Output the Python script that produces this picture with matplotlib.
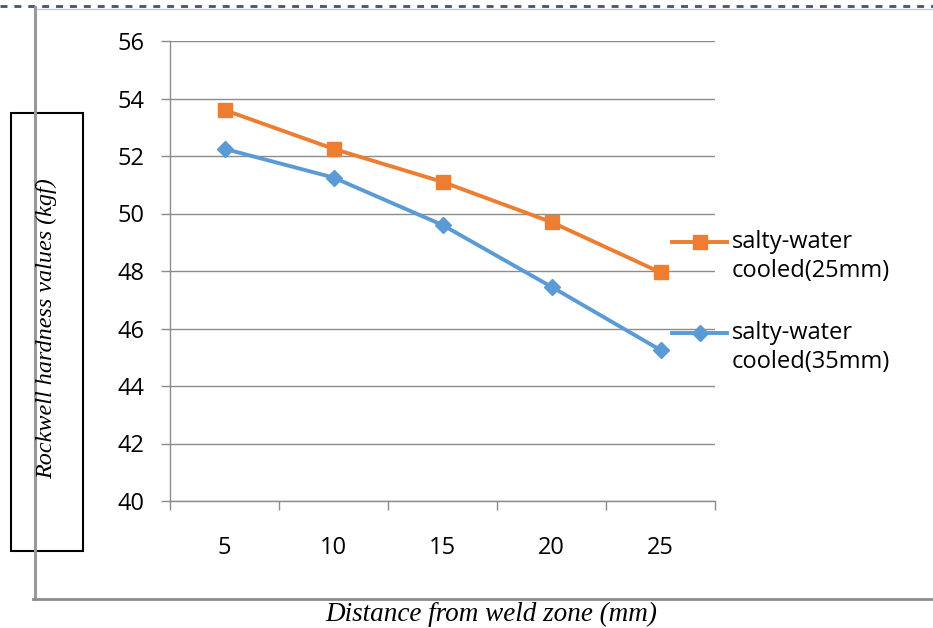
import matplotlib
matplotlib.use("Agg")
import matplotlib.pyplot as plt
from matplotlib.lines import Line2D
from matplotlib.patches import Rectangle

# data
distance = ["5", "10", "15", "20", "25"]
hardness_25mm = [53.6, 52.25, 51.1, 49.7, 47.95]
hardness_35mm = [52.25, 51.25, 49.6, 47.45, 45.25]
label_25mm = "salty-water\ncooled(25mm)"
label_35mm = "salty-water\ncooled(35mm)"
y_ticks = [40, 42, 44, 46, 48, 50, 52, 54, 56]

ORANGE = "#ED7D31"
BLUE = "#5B9BD5"
GRID = "#8C8C8C"
W, H = 933, 628

fig = plt.figure(figsize=(W / 100, H / 100), dpi=100)
ax = fig.add_axes([170 / W, 1 - 501 / H, 545 / W, 460 / H])

x = list(range(len(distance)))
ax.plot(x, hardness_25mm, color=ORANGE, lw=2.8, marker="s", ms=10,
        zorder=3, clip_on=False)
ax.plot(x, hardness_35mm, color=BLUE, lw=2.8, marker="D", ms=8.5,
        zorder=3, clip_on=False)

ax.set_xlim(-0.5, len(distance) - 0.5)
ax.set_ylim(40, 56)
ax.set_yticks(y_ticks)
ax.set_xticks(x)
ax.set_xticklabels(distance)
ax.set_xticks([i - 0.5 for i in range(len(distance) + 1)], minor=True)

for s in ["top", "right"]:
    ax.spines[s].set_visible(False)
for s in ["left", "bottom"]:
    ax.spines[s].set_color(GRID)
    ax.spines[s].set_linewidth(1.0)
ax.grid(axis="y", color=GRID, lw=1.0)
ax.set_axisbelow(True)

tick_font = dict(family="Open Sans", size=17)
ax.tick_params(axis="y", length=6.5, width=1.0, color=GRID, pad=12,
               labelsize=17, labelfontfamily="Open Sans")
ax.tick_params(axis="x", which="major", length=0, pad=25,
               labelsize=17, labelfontfamily="Open Sans")
ax.tick_params(axis="x", which="minor", length=6.5, width=1.0, color=GRID)

# frame around the chart, as in the source document
fig.add_artist(Line2D([0, 1], [1 - 6 / H, 1 - 6 / H], color="#44546A",
                      lw=2.0, ls=(0, (2.5, 2.5))))
fig.add_artist(Line2D([35 / W, 1], [1 - 8.5 / H, 1 - 8.5 / H],
                      color="#C8C8C8", lw=1.0))
fig.add_artist(Line2D([34.5 / W, 34.5 / W], [1 - 7 / H, 1 - 599 / H],
                      color="#999999", lw=2.2))
fig.add_artist(Line2D([33 / W, 1], [1 - 599 / H, 1 - 599 / H],
                      color="#8C8C8C", lw=2.0))

# y label in a box
fig.add_artist(Rectangle((11 / W, 1 - 551 / H), 72 / W, 438 / H,
                         transform=fig.transFigure, fill=True, fc="white",
                         ec="black", lw=1.5))
fig.text(47 / W, 1 - 329 / H, "Rockwell hardness values (kgf)",
         rotation=90, ha="center", va="center", family="Liberation Serif",
         style="italic", size=17.4)
fig.text(491 / W, 1 - 614 / H, "Distance from weld zone (mm)",
         ha="center", va="center", family="Liberation Serif",
         style="italic", size=19.5)

# legend entries
for lab, col, mk, ms, y0 in [(label_25mm, ORANGE, "s", 10, 242),
                             (label_35mm, BLUE, "D", 8.5, 333)]:
    fig.add_artist(Line2D([672 / W, 727 / W], [1 - y0 / H, 1 - y0 / H],
                          color=col, lw=2.8))
    fig.add_artist(Line2D([699.5 / W], [1 - y0 / H], color=col, marker=mk,
                          ms=ms, lw=0))
    fig.text(732 / W, 1 - (y0 + 14.5) / H, lab, ha="left", va="center",
             linespacing=1.28, **tick_font)

fig.savefig("out.png", dpi=100)
